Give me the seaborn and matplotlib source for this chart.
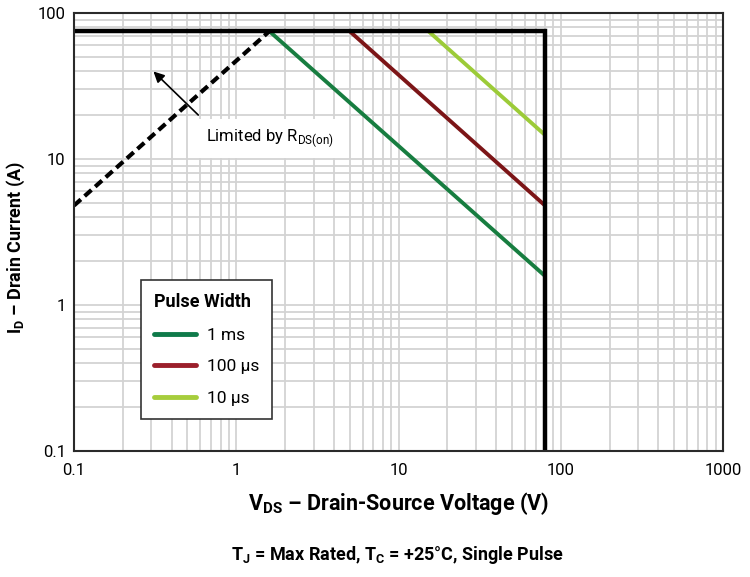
import numpy as np
import pandas as pd
import matplotlib
matplotlib.use("Agg")
import matplotlib.pyplot as plt
import seaborn as sns
from matplotlib.lines import Line2D

# Данные кривых SOA (читаются с графика)
vds_rds = [0.1, 1.6]
id_rds = [4.8, 75]

vds_limit = [0.1, 80, 80]
id_limit = [75, 75, 0.1]

vds_1ms = [1.6, 80]
id_1ms = [75, 1.58]
vds_100us = [5.0, 80]
id_100us = [75, 4.8]
vds_10us = [15.3, 80]
id_10us = [75, 14.6]

pulse_labels = ["1 ms", "100 µs", "10 µs"]
pulse_colors = ["#177d40", "#7c1517", "#9ccb38"]
legend_colors = ["#0f7a4a", "#9b1f2b", "#a6cd3c"]

x_ticks = [0.1, 1, 10, 100, 1000]
x_ticklabels = ["0.1", "1", "10", "100", "1000"]
y_ticks = [0.1, 1, 10, 100]
y_ticklabels = ["0.1", "1", "10", "100"]

sns.set_theme(style="white")
plt.rcParams['font.family'] = ['Roboto', 'DejaVu Sans']
plt.rcParams['mathtext.fontset'] = 'custom'
plt.rcParams['mathtext.rm'] = 'Roboto'
plt.rcParams['text.color'] = 'black'
plt.rcParams['axes.labelcolor'] = 'black'

fig = plt.figure(figsize=(7.5, 5.77), dpi=100)
ax = fig.add_axes([0.0987, 0.2184, 0.8653, 0.7591])

ax.set_xscale("log")
ax.set_yscale("log")
ax.set_xlim(0.1, 1000)
ax.set_ylim(0.1, 100)

# Сетка
ax.grid(True, which="both", color="#d3d3d3", linewidth=1.3)
ax.set_axisbelow(True)

# Кривые длительности импульса
series = [(vds_1ms, id_1ms), (vds_100us, id_100us), (vds_10us, id_10us)]
for (xv, yv), lab, col in zip(series, pulse_labels, pulse_colors):
    df = pd.DataFrame({"vds": xv, "id": yv})
    sns.lineplot(data=df, x="vds", y="id", ax=ax, color=col, linewidth=2.8,
                 estimator=None, sort=False, solid_capstyle="butt")

# Ограничение R_DS(on)
df_rds = pd.DataFrame({"vds": vds_rds, "id": id_rds})
sns.lineplot(data=df_rds, x="vds", y="id", ax=ax, color="black", linewidth=3.0,
             estimator=None, sort=False, linestyle=(0, (2.2, 1.2)),
             dash_capstyle="butt")

# Граница SOA
df_lim = pd.DataFrame({"vds": vds_limit, "id": id_limit})
sns.lineplot(data=df_lim, x="vds", y="id", ax=ax, color="black", linewidth=3.2,
             estimator=None, sort=False, solid_joinstyle="miter")

ax.set_xticks(x_ticks)
ax.set_xticklabels(x_ticklabels)
ax.set_yticks(y_ticks)
ax.set_yticklabels(y_ticklabels)
ax.tick_params(axis="both", which="both", length=0, labelsize=12, colors="black", pad=6)
ax.tick_params(axis="x", pad=9)
ax.minorticks_on()
ax.tick_params(which="minor", length=0)
ax.xaxis.set_minor_formatter(matplotlib.ticker.NullFormatter())
ax.yaxis.set_minor_formatter(matplotlib.ticker.NullFormatter())

for sp in ax.spines.values():
    sp.set_color("#2a2a2a")
    sp.set_linewidth(1.5)

ax.set_xlabel("V$_\\mathregular{DS}$ – Drain-Source Voltage (V)", fontsize=15.5,
              fontweight="bold", labelpad=8)
ax.set_ylabel("I$_\\mathregular{D}$ – Drain Current (A)", fontsize=13,
              fontweight="bold", labelpad=8)
ax.yaxis.set_label_coords(-0.072, 0.465)

# Аннотация
ax.annotate("", xy=(0.3, 41), xytext=(0.6, 19.4),
            arrowprops=dict(arrowstyle="-|>", color="black", lw=1.2, mutation_scale=16))
ax.text(1.62, 13.8, "Limited by R$_\\mathregular{DS(on)}$", fontsize=12, ha="center", va="center",
        bbox=dict(facecolor="white", edgecolor="none", pad=6))

# Легенда
handles = [Line2D([0], [0], color=c, linewidth=3.5) for c in legend_colors]
leg = ax.legend(handles, pulse_labels, title="Pulse Width", loc="lower left",
                bbox_to_anchor=(0.103, 0.073), borderaxespad=0, fontsize=12.5,
                handlelength=2.4, fancybox=False, framealpha=1, edgecolor="#333333",
                borderpad=0.75, labelspacing=0.95, handletextpad=0.65, alignment="left")
leg.get_title().set_fontweight("bold")
leg.get_title().set_fontsize(13)
leg.get_frame().set_linewidth(1.2)

fig.text(0.53, 0.038, "T$_\\mathregular{J}$ = Max Rated, T$_\\mathregular{C}$ = +25°C, Single Pulse",
         ha="center", va="center", fontsize=13, fontweight="bold")

fig.savefig("out.png", dpi=100)
